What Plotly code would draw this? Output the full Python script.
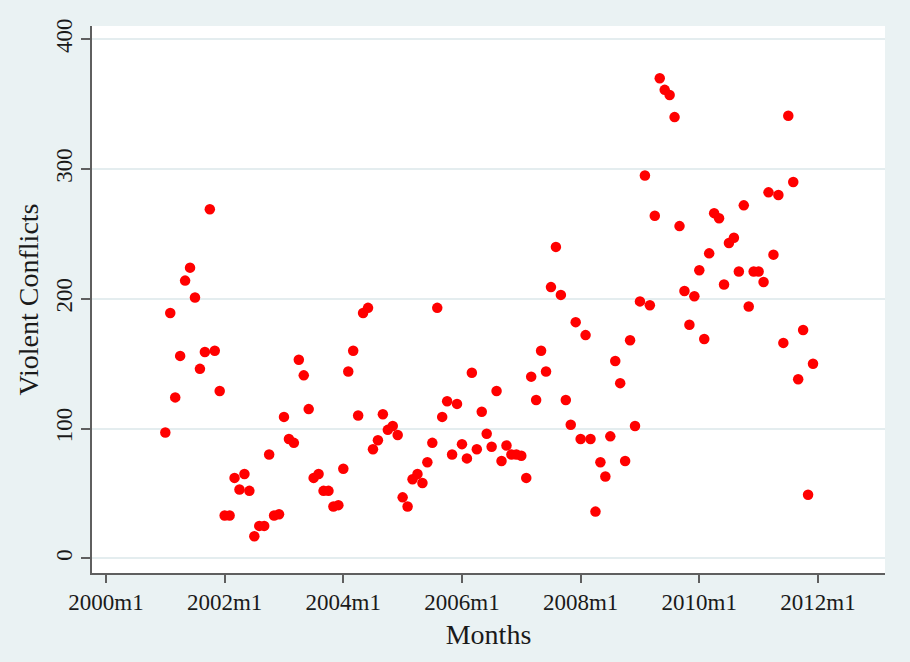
import plotly.graph_objects as go

# monthly counts, 2001m1 .. 2011m12
YEARS = list(range(2001, 2012))
V2001 = [97, 189, 124, 156, 214, 224, 201, 146, 159, 269, 160, 129]
V2002 = [33, 33, 62, 53, 65, 52, 17, 25, 25, 80, 33, 34]
V2003 = [109, 92, 89, 153, 141, 115, 62, 65, 52, 52, 40, 41]
V2004 = [69, 144, 160, 110, 189, 193, 84, 91, 111, 99, 102, 95]
V2005 = [47, 40, 61, 65, 58, 74, 89, 193, 109, 121, 80, 119]
V2006 = [88, 77, 143, 84, 113, 96, 86, 129, 75, 87, 80, 80]
V2007 = [79, 62, 140, 122, 160, 144, 209, 240, 203, 122, 103, 182]
V2008 = [92, 172, 92, 36, 74, 63, 94, 152, 135, 75, 168, 102]
V2009 = [198, 295, 195, 264, 370, 361, 357, 340, 256, 206, 180, 202]
V2010 = [222, 169, 235, 266, 262, 211, 243, 247, 221, 272, 194, 221]
V2011 = [221, 213, 282, 234, 280, 166, 341, 290, 138, 176, 49, 150]

TICK_VALS = [0, 24, 48, 72, 96, 120, 144]
TICK_TEXT = ["2000m1", "2002m1", "2004m1", "2006m1", "2008m1", "2010m1", "2012m1"]
Y_TICKS = [0, 100, 200, 300, 400]

BG = "#EAF2F3"
GRID = "#E4EDEF"
AXIS = "#5F5F5F"
FONT = "Liberation Serif, Times New Roman, serif"

series = [V2001, V2002, V2003, V2004, V2005, V2006, V2007, V2008, V2009, V2010, V2011]
x, y, labels = [], [], []
for yr, vals in zip(YEARS, series):
    for m, v in enumerate(vals, start=1):
        x.append((yr - 2000) * 12 + (m - 1))
        y.append(v)
        labels.append(f"{yr}m{m}")

fig = go.Figure()
fig.add_trace(
    go.Scatter(
        x=x,
        y=y,
        mode="markers",
        marker=dict(color="#FF0000", size=10.5, line=dict(width=0)),
        customdata=labels,
        hovertemplate="%{customdata}<br>%{y}<extra></extra>",
    )
)

fig.update_layout(
    width=910,
    height=662,
    paper_bgcolor=BG,
    plot_bgcolor="white",
    showlegend=False,
    margin=dict(l=92, r=25, t=26, b=89),
    font=dict(family=FONT, size=23, color="#1A1A1A"),
)
fig.update_xaxes(
    range=[-2.83, 157.56],
    tickvals=TICK_VALS,
    ticktext=TICK_TEXT,
    ticks="outside",
    ticklen=8,
    tickwidth=1.5,
    tickcolor=AXIS,
    showline=True,
    linecolor=AXIS,
    linewidth=1.5,
    showgrid=False,
    zeroline=False,
    title=dict(text="Months", standoff=10),
    automargin=False,
)
fig.update_yaxes(
    range=[-11.3, 410.2],
    tickvals=Y_TICKS,
    ticks="outside",
    ticklen=9,
    tickwidth=1.5,
    tickcolor=AXIS,
    tickangle=-90,
    showline=True,
    linecolor=AXIS,
    linewidth=1.5,
    showgrid=True,
    gridcolor=GRID,
    gridwidth=2,
    zeroline=False,
    title=dict(text="Violent Conflicts", standoff=5),
    automargin=False,
)

# drop the page's default 8px body margin so the figure fills the window
fig.write_html(
    "out.html",
    config={"displayModeBar": False},
    post_script="document.body.style.margin='0';document.body.style.background='#EAF2F3';",
)
